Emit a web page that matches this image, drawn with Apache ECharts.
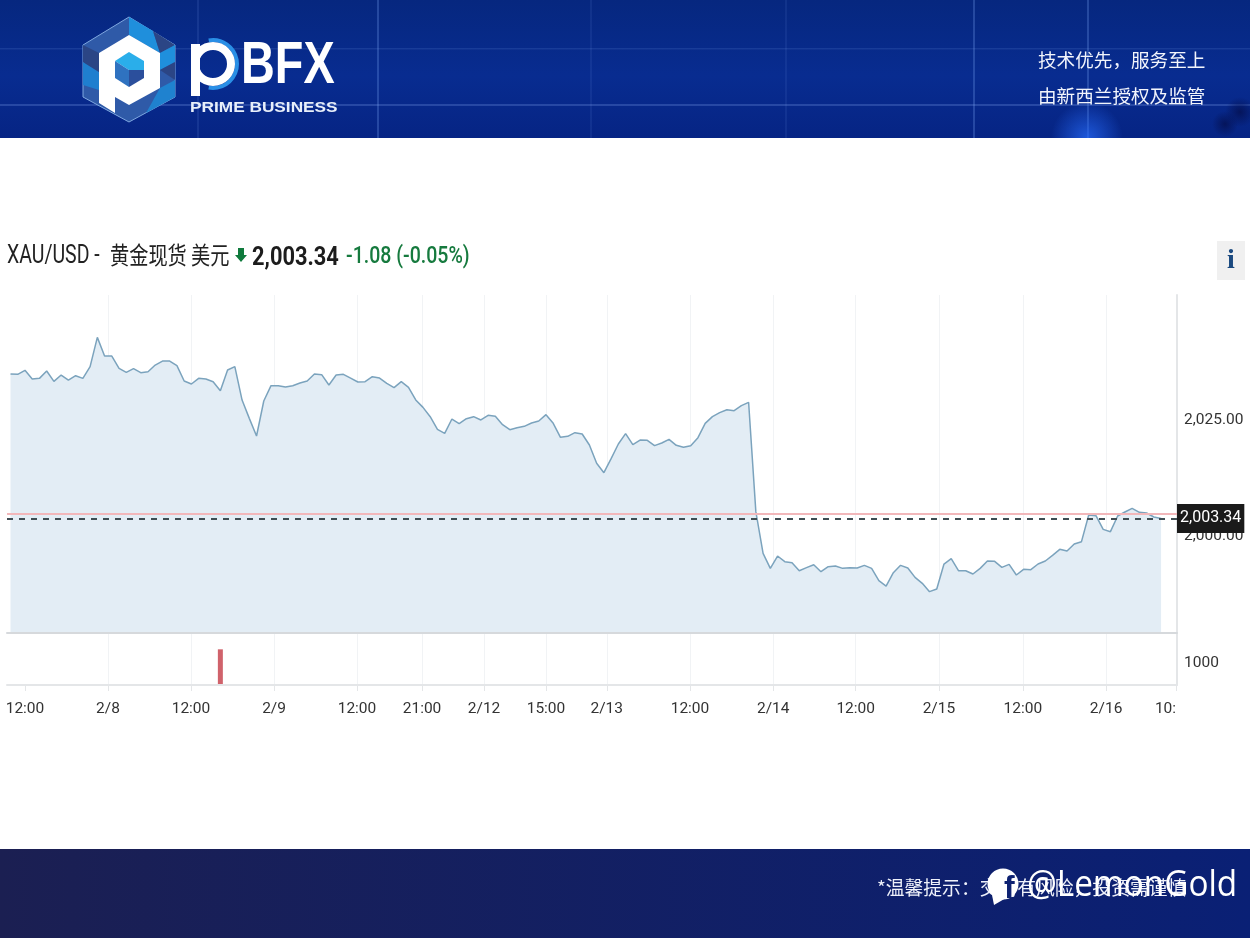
<!DOCTYPE html>
<html>
<head>
<meta charset="utf-8">
<style>html,body{margin:0;padding:0;background:#fff}#main{width:1250px;height:938px}</style>
<script src="https://cdn.jsdelivr.net/npm/echarts@6/dist/echarts.min.js"></script>
</head>
<body>
<div id="main"></div>
<script>
// Hourly XAU/USD closes, oldest first
const prices = [
2034.33,2034.26,2035.12,2033.26,2033.40,2034.98,2032.76,2034.12,2033.04,2033.97,
2033.40,2035.91,2042.20,2038.19,2038.19,2035.55,2034.69,2035.48,2034.62,2034.83,
2036.26,2037.12,2037.12,2036.12,2032.83,2032.19,2033.40,2033.26,2032.69,2030.76,
2035.19,2035.91,2028.75,2024.82,2021.03,2028.54,2031.83,2031.83,2031.54,2031.83,
2032.40,2032.83,2034.33,2034.19,2031.97,2034.12,2034.26,2033.47,2032.62,2032.69,
2033.76,2033.47,2032.33,2031.40,2032.69,2031.48,2028.76,2027.18,2025.18,2022.46,
2021.61,2024.68,2023.68,2024.75,2025.18,2024.47,2025.47,2025.25,2023.47,2022.39,
2022.82,2023.11,2023.82,2024.25,2025.61,2023.75,2020.75,2020.96,2021.75,2021.46,
2019.10,2015.17,2013.16,2016.17,2019.32,2021.53,2019.17,2020.17,2020.10,2018.96,
2019.53,2020.32,2019.03,2018.60,2018.96,2020.68,2023.75,2025.18,2026.04,2026.68,
2026.47,2027.54,2028.26,2004.80,1995.85,1992.63,1995.28,1994.07,1993.85,1992.13,
1992.78,1993.42,1991.92,1992.99,1993.14,1992.63,1992.78,1992.71,1993.28,1992.63,
1989.99,1988.84,1991.70,1993.28,1992.71,1990.70,1989.42,1987.63,1988.20,1993.56,
1994.71,1992.13,1992.13,1991.42,1992.63,1994.21,1994.14,1992.85,1993.49,1991.20,
1992.42,1992.35,1993.56,1994.21,1995.42,1996.71,1996.35,1997.86,1998.36,2004.08,
2003.94,2001.00,2000.50,2003.86,2004.72,2005.51,2004.65,2004.51,2003.65,2003.34
];
const volumeIndex = [29];
const volumeValues = [1458];
const lastPrice = 2003.34;
const previousClose = 2004.42;
const priceTicks = [2000, 2025];
const volumeTicks = [1000];
const timeTicks = [2, 13.47, 24.94, 36.42, 47.88, 56.87, 65.44, 74, 82.4, 93.9, 105.4, 116.8, 128.3, 139.9, 151.4, 161.07];
const timeLabels = ['12:00','2/8','12:00','2/9','12:00','21:00','2/12','15:00','2/13','12:00','2/14','12:00','2/15','12:00','2/16','10:'];

const LATIN = 'Roboto,"Noto Sans CJK SC",sans-serif';
const CJK = '"Noto Sans CJK SC",sans-serif';
const GRID_LINE = '#f1f3f5';
const AXIS_LINE = '#e4e6e8';
const AXIS_FONT_SIZE = 15.5;

const priceLine = prices.map((v, i) => [i, v]);
const volumeBars = volumeIndex.map((x, i) => [x, volumeValues[i]]);

const poly = (points, fill, extra) => Object.assign({
  type: 'polygon', shape: { points }, style: { fill }, silent: true
}, extra || {});
const rect = (x, y, width, height, fill) => ({
  type: 'rect', shape: { x, y, width, height }, style: { fill }, silent: true
});
const label = (x, y, text, font, size, fill, weight, extra) => Object.assign({
  type: 'text', x, y, silent: true,
  style: { x: 0, y: 0, text, fill, fontFamily: font, fontSize: size, fontWeight: weight || 'normal', textVerticalAlign: 'middle', textAlign: 'left' }
}, extra || {});
const horizontalFade = (a, b) => new echarts.graphic.LinearGradient(0, 0, 1, 0, [{ offset: 0, color: a }, { offset: 1, color: b }]);
const glow = (cx, cy, r, color, clear) => ({
  type: 'circle', shape: { cx, cy, r }, silent: true,
  style: { fill: new echarts.graphic.RadialGradient(0.5, 0.5, 0.5, [{ offset: 0, color }, { offset: 1, color: clear }]) }
});

const headerBand = [
  { type: 'rect', shape: { x: 0, y: 0, width: 1250, height: 138 }, silent: true,
    style: { fill: new echarts.graphic.LinearGradient(0, 0, 0, 1, [
      { offset: 0, color: '#06277f' }, { offset: 0.55, color: '#082c90' }, { offset: 1, color: '#062484' }]) } },
  rect(197, 0, 2, 138, 'rgba(120,160,240,0.13)'),
  rect(377, 0, 2, 138, 'rgba(120,160,240,0.28)'),
  rect(590, 0, 2, 138, 'rgba(120,160,240,0.10)'),
  rect(785, 0, 2, 138, 'rgba(120,160,240,0.10)'),
  rect(973, 0, 2, 138, 'rgba(120,160,240,0.28)'),
  rect(1087, 0, 2, 138, 'rgba(120,160,240,0.28)'),
  rect(0, 48, 1250, 1.5, 'rgba(130,165,240,0.15)'),
  rect(0, 104, 1250, 2, 'rgba(130,165,240,0.26)'),
  Object.assign(glow(1087, 138, 36, 'rgba(40,110,255,0.7)', 'rgba(40,110,255,0)'),
    { clipPath: { type: 'rect', shape: { x: 1040, y: 98, width: 94, height: 40 } } }),
  glow(1225, 124, 13, 'rgba(4,16,80,0.8)', 'rgba(4,16,80,0)'),
  glow(1240, 112, 15, 'rgba(4,16,80,0.8)', 'rgba(4,16,80,0)')
];

const logoMark = [
  poly([[129,17],[175,45],[175,97],[129,122],[83,97],[83,45]], '#2f5aa8', { style: { fill: '#2f5aa8', stroke: '#7fa8e0', lineWidth: 1 } }),
  poly([[129,17],[153,31],[160,53],[129,35]], '#1f8fdc'),
  poly([[153,31],[175,45],[160,53]], '#2b4585'),
  poly([[175,45],[175,62],[160,70],[160,53]], '#1f8fdc'),
  poly([[175,62],[175,80],[160,70]], '#2b4585'),
  poly([[175,80],[175,97],[146,113],[160,88]], '#1f82cf'),
  poly([[83,62],[99,72],[99,90],[83,85]], '#1f7fcf'),
  poly([[83,45],[99,53],[99,72],[83,62]], '#2b4585'),
  poly([[99,53],[129,35],[160,53],[160,88],[129,105],[115,97],[115,113],[99,103]], '#ffffff'),
  poly([[129,52],[144,61],[144,70],[129,70],[115,61]], '#2aaeea'),
  poly([[115,61],[129,70],[129,87],[115,78]], '#2f72c0'),
  poly([[144,70],[144,78],[129,87],[129,70]], '#2b4f9c')
];

const logoWord = [
  { type: 'arc', shape: { cx: 213, cy: 64, r: 24, startAngle: -1.75, endAngle: 1.75 }, silent: true, style: { stroke: '#2a8fe6', lineWidth: 4, fill: null } },
  { type: 'circle', shape: { cx: 213, cy: 64, r: 18 }, silent: true, style: { stroke: '#ffffff', lineWidth: 8, fill: null } },
  rect(191, 44, 9, 52, '#ffffff'),
  label(241, 66, 'BFX', '"Liberation Sans",sans-serif', 60, '#ffffff', 'bold', { scaleX: 0.78 }),
  label(190, 108, 'PRIME BUSINESS', '"Liberation Sans",sans-serif', 15, '#e8effa', 'bold', { scaleX: 1.15 })
];

const headerText = [
  label(1038, 60, '技术优先，服务至上', CJK, 18.6, '#f2f5fc'),
  label(1038, 96, '由新西兰授权及监管', CJK, 18.6, '#f2f5fc')
];

const iconLetter = label(1231, 261, 'i', '"Liberation Serif",serif', 28, '#1b4a80', 'bold');
iconLetter.style.textAlign = 'center';

const titleRow = [
  label(7, 257, 'XAU/USD -', LATIN, 25, '#222222', 'normal', { scaleX: 0.78 }),
  label(110, 255, '黄金现货 美元', CJK, 24, '#222222', 'normal', { scaleX: 0.8 }),
  poly([[238,248],[244,248],[244,255],[247,255],[241,262],[235,255],[238,255]], '#0f7a3c'),
  label(252, 258, '2,003.34', LATIN, 26, '#1c1c1c', 'bold', { scaleX: 0.84 }),
  label(346, 257, '-1.08 (-0.05%)', LATIN, 23, '#167a3e', 500, { scaleX: 0.85 }),
  rect(1217, 241, 28, 39, '#f0f0f0'),
  iconLetter
];

const footerBand = [
  { type: 'rect', shape: { x: 0, y: 849, width: 1250, height: 89 }, silent: true,
    style: { fill: horizontalFade('#1b1f52', '#0a2075') } },
  label(877, 888, '*温馨提示：交易有风险，投资需谨慎', CJK, 18.8, '#eef1fa'),
  { type: 'circle', shape: { cx: 1003, cy: 884, r: 15.5 }, silent: true, style: { fill: '#ffffff' } },
  poly([[992,895],[1006,898],[994,905]], '#ffffff'),
  label(1004, 889, 'f', '"Liberation Sans",sans-serif', 32, '#0e2272', 'bold'),
  label(1027, 885, '@LemonGold', '"Open Sans",sans-serif', 37, '#ffffff', 'normal', { scaleX: 0.9 })
];

const chart = echarts.init(document.getElementById('main'), null, { renderer: 'canvas' });
const splitLine = { show: true, showMinLine: false, showMaxLine: false, lineStyle: { color: GRID_LINE, width: 1 } };
const sideAxisLine = { show: true, onZero: false, lineStyle: { color: AXIS_LINE, width: 2 } };
// Side-axis text sits a little below its tick
const sideLabelRich = { v: { color: '#333333', fontFamily: LATIN, fontSize: AXIS_FONT_SIZE, padding: [5, 0, 0, 0] } };
chart.setOption({
  animation: false,
  backgroundColor: '#ffffff',
  graphic: { elements: [...headerBand, ...logoMark, ...logoWord, ...headerText, ...titleRow, ...footerBand] },
  grid: [
    { left: 7, right: 73, top: 295, height: 338, outerBoundsMode: 'none' },
    { left: 7, right: 73, top: 633, height: 52, outerBoundsMode: 'none' }
  ],
  xAxis: [
    { type: 'value', gridIndex: 0, min: -0.484, max: 161.2, position: 'bottom', z: 3,
      axisLine: { show: true, onZero: false, lineStyle: { color: '#d6d9dc', width: 2 } },
      axisTick: { show: false, customValues: timeTicks },
      axisLabel: { show: false, customValues: timeTicks },
      splitLine },
    { type: 'value', gridIndex: 1, min: -0.484, max: 161.2, position: 'bottom', z: 3,
      axisLine: { show: true, onZero: false, lineStyle: { color: AXIS_LINE, width: 2 } },
      axisTick: { show: true, length: 6, customValues: timeTicks, lineStyle: { color: AXIS_LINE, width: 1 } },
      axisLabel: { show: true, customValues: timeTicks, margin: 16, color: '#333333', fontFamily: LATIN, fontSize: AXIS_FONT_SIZE,
        showMinLabel: true, showMaxLabel: true, hideOverlap: false, alignMaxLabel: 'right',
        formatter: v => { const i = timeTicks.indexOf(v); return i >= 0 ? timeLabels[i] : ''; } },
      splitLine }
  ],
  yAxis: [
    { type: 'value', gridIndex: 0, position: 'right', min: 1978.76, max: 2051.29,
      axisLine: sideAxisLine,
      axisTick: { show: false, customValues: priceTicks },
      axisLabel: { customValues: priceTicks, margin: 7, rich: sideLabelRich,
        formatter: v => '{v|' + v.toLocaleString('en-US', { minimumFractionDigits: 2, maximumFractionDigits: 2 }) + '}' },
      splitLine },
    { type: 'value', gridIndex: 1, position: 'right', min: 0, max: 2125,
      axisLine: sideAxisLine,
      axisTick: { show: false, customValues: volumeTicks },
      axisLabel: { customValues: volumeTicks, margin: 7, rich: sideLabelRich,
        formatter: v => '{v|' + v + '}' },
      splitLine: { show: false } }
  ],
  series: [
    { name: 'XAU/USD', type: 'line', xAxisIndex: 0, yAxisIndex: 0, data: priceLine,
      showSymbol: false, smooth: false, silent: true,
      lineStyle: { color: '#7ba3bd', width: 1.5 },
      areaStyle: { color: '#e3edf5', opacity: 1, origin: 'start' },
      markLine: {
        silent: true, symbol: 'none', animation: false,
        data: [
          { yAxis: previousClose, lineStyle: { color: '#f2b7ba', width: 2, type: 'solid' }, label: { show: false } },
          { yAxis: lastPrice, lineStyle: { color: '#3f4c52', width: 2, type: [6, 6] },
            label: { show: true, position: 'end', distance: 0, formatter: '2,003.34', color: '#ffffff',
              fontFamily: LATIN, fontSize: 16, backgroundColor: '#1a1a1a', padding: [7, 3, 6, 3] } }
        ]
      } },
    { name: 'Volume', type: 'bar', xAxisIndex: 1, yAxisIndex: 1, data: volumeBars, barWidth: 5, silent: true,
      itemStyle: { color: '#d0626b' } }
  ]
});
</script>
</body>
</html>
